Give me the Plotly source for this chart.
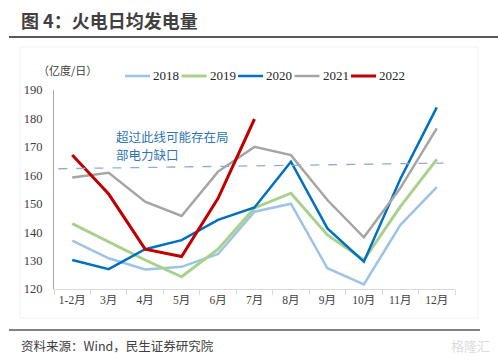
import plotly.graph_objects as go

months = ["1-2月", "3月", "4月", "5月", "6月", "7月", "8月", "9月", "10月", "11月", "12月"]
y2018 = [137.0, 130.8, 126.9, 127.8, 132.3, 147.2, 150.0, 127.3, 121.6, 142.5, 155.8]
y2019 = [143.0, 136.6, 130.2, 124.3, 134.0, 148.5, 153.7, 139.0, 130.2, 149.0, 165.6]
y2020 = [130.2, 127.0, 134.0, 137.2, 144.3, 148.7, 164.8, 141.3, 129.6, 158.7, 183.9]
y2021 = [159.2, 160.9, 150.7, 145.7, 161.3, 170.0, 167.1, 151.3, 138.2, 155.5, 176.5]
y2022 = [167.1, 153.4, 134.0, 131.4, 151.9, 179.8]
threshold = [162.3, 164.3]
y_ticks = [120, 130, 140, 150, 160, 170, 180, 190]

series = [
    ("2018", y2018, "#9DC3E6", 2.5),
    ("2019", y2019, "#A9D18E", 3),
    ("2020", y2020, "#0070C0", 2.5),
    ("2021", y2021, "#A5A5A5", 2.5),
    ("2022", y2022, "#C00000", 3),
]

fig = go.Figure()
for name, vals, color, w in series:
    fig.add_trace(go.Scatter(
        x=months[:len(vals)], y=vals, name=name, mode="lines",
        line=dict(color=color, width=w), hoverinfo="skip", showlegend=False,
    ))

serif = "Liberation Serif, Times New Roman, Noto Sans CJK SC, serif"
sans = "Noto Sans CJK SC, sans-serif"

W, H = 498, 361
L, R, T, B = 54, 455, 90, 289


def px(x):
    return (x - L) / (R - L)


def py(y):
    return (B - y) / (B - T)


fig.update_layout(
    width=W, height=H,
    margin=dict(l=L, r=W - R, t=T, b=H - B, autoexpand=False),
    paper_bgcolor="white", plot_bgcolor="white",
    showlegend=False,
    xaxis=dict(
        type="category", categoryorder="array", categoryarray=months,
        range=[-0.5, 10.5], showline=True, linecolor="#D9D9D9", linewidth=1,
        ticks="outside", tickson="boundaries", ticklen=5, tickcolor="#D9D9D9",
        showgrid=False, zeroline=False, tickangle=0,
        tickfont=dict(family=serif, size=11.5, color="#404040"),
    ),
    yaxis=dict(
        range=[120, 190], tickvals=y_ticks, showline=True, linecolor="#A6A6A6", linewidth=1,
        showgrid=False, zeroline=False, ticks="", ticklabelstandoff=8,
        tickfont=dict(family=serif, size=12.5, color="#404040"),
    ),
)

# manual legend (top, horizontal)
leg_x0, leg_step, leg_y = 125, 56.5, 76
for i, (name, vals, color, w) in enumerate(series):
    x0 = leg_x0 + i * leg_step
    fig.add_shape(type="line", xref="paper", yref="paper",
                  x0=px(x0), x1=px(x0 + 25), y0=py(leg_y), y1=py(leg_y),
                  line=dict(color=color, width=w))
    fig.add_annotation(xref="paper", yref="paper", x=px(x0 + 26), y=py(leg_y),
                       xanchor="left", yanchor="middle", showarrow=False,
                       text=name, font=dict(family=serif, size=13, color="#262626"))

# threshold dashed line
fig.add_shape(type="line", xref="x", yref="y", x0=-0.38, x1=10.19,
              y0=threshold[0], y1=threshold[1],
              line=dict(color="#8FAADC", width=1.3, dash="dash"))

# annotation text
for line_text, yy in [("超过此线可能存在局", 136.5), ("部电力缺口", 154.5)]:
    fig.add_annotation(xref="paper", yref="paper", x=px(114), y=py(yy),
                       xanchor="left", yanchor="middle", align="left", showarrow=False,
                       text=line_text,
                       font=dict(family=sans, size=12.5, color="#2E75B6"))

# unit
fig.add_annotation(xref="paper", yref="paper", x=px(36), y=py(70),
                   xanchor="left", yanchor="middle", showarrow=False,
                   text="（亿度/日）", font=dict(family=sans, size=11, color="#404040"))

# title
fig.add_annotation(xref="paper", yref="paper", x=px(19), y=py(20),
                   xanchor="left", yanchor="middle", showarrow=False,
                   text="<b>图 4：火电日均发电量</b>",
                   font=dict(family=sans, size=18, color="#404040"))
fig.add_shape(type="line", xref="paper", yref="paper",
              x0=px(9), x1=px(498), y0=py(37), y1=py(37),
              line=dict(color="#595959", width=2))

# faint chart frame
fig.add_shape(type="rect", xref="paper", yref="paper",
              x0=px(20), x1=px(478), y0=py(318), y1=py(47),
              line=dict(color="#F2F2F2", width=1), layer="below")

# footer
fig.add_shape(type="line", xref="paper", yref="paper",
              x0=px(9), x1=px(480), y0=py(330), y1=py(330),
              line=dict(color="#595959", width=1.5))
fig.add_annotation(xref="paper", yref="paper", x=px(19), y=py(345),
                   xanchor="left", yanchor="middle", showarrow=False,
                   text="资料来源：Wind，民生证券研究院",
                   font=dict(family=sans, size=12.5, color="#404040"))
fig.add_annotation(xref="paper", yref="paper", x=px(492), y=py(345),
                   xanchor="right", yanchor="middle", showarrow=False,
                   text="格隆汇", font=dict(family=sans, size=13, color="#DDDDDD"))

fig.write_html("out.html", config={"displayModeBar": False},
               post_script="document.body.style.margin='0';")
